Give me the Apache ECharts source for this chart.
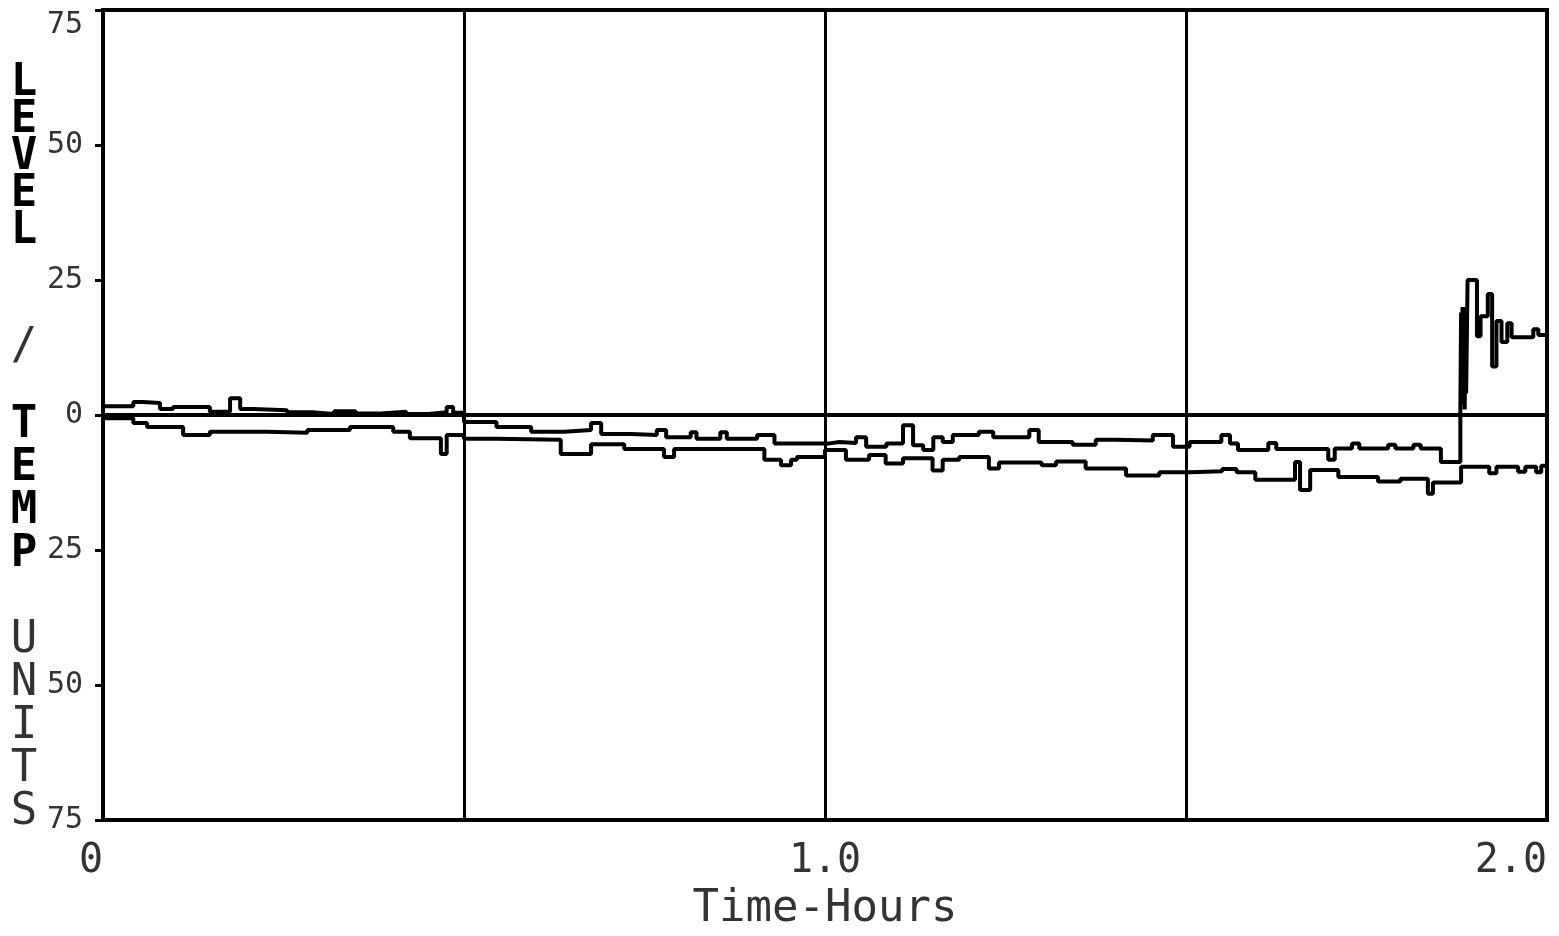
<!DOCTYPE html>
<html>
<head>
<meta charset="utf-8">
<title>Level / Temp Units vs Time</title>
<style>
  html, body { margin: 0; padding: 0; background: #fff; }
  #chart { width: 1559px; height: 936px; }
</style>
<script src="https://cdn.jsdelivr.net/npm/echarts@6/dist/echarts.min.js"></script>
</head>
<body>
<div id="chart"></div>
<script>
// ======================================
// 数据：时间（小时）/ 读数，阶梯记录
// ======================================

const X_TICKS = ["0", "", "1.0", "", "2.0"];
const Y_TICKS = [75, 50, 25, 0, 25, 50, 75];
const Y_TITLE = ["LEVEL", "/", "TEMP", "UNITS"];

// 上方曲线（末段跳升）：[开始时刻, 数值]
const TRACE_A = [
    [0, 1.6], [0.042, 2.4], [0.055, 2.2], [0.079, 1.1], [0.097, 1.5], [0.148, 0.6],
    [0.176, 3.1], [0.19, 1.1], [0.208, 0.9], [0.255, 0.5], [0.29, 0.2], [0.32, 0.7],
    [0.35, 0.3], [0.385, 0.6], [0.42, 0.2], [0.45, 0.5], [0.476, 1.5], [0.485, 0.4],
    [0.5, -1.3], [0.545, -2.2], [0.593, -3.1], [0.639, -2.8], [0.676, -1.5], [0.69, -3.5],
    [0.731, -3.7], [0.767, -2.8], [0.78, -4.1], [0.814, -3.2], [0.822, -4.4], [0.855, -3.2],
    [0.864, -4.4], [0.906, -3.7], [0.93, -5.3], [1.004, -5.0], [1.02, -5.2], [1.043, -4.1],
    [1.057, -5.9], [1.085, -5.3], [1.108, -1.9], [1.122, -5.6], [1.136, -6.5], [1.15, -4.1],
    [1.163, -5.0], [1.177, -3.7], [1.213, -3.1], [1.233, -4.1], [1.283, -2.8], [1.296, -5.0],
    [1.343, -5.5], [1.375, -4.6], [1.403, -4.7], [1.454, -3.7], [1.482, -5.9], [1.505, -5.0],
    [1.549, -3.7], [1.561, -5.3], [1.572, -6.5], [1.614, -5.2], [1.625, -6.3], [1.697, -8.3],
    [1.706, -6.2], [1.73, -5.3], [1.74, -6.2], [1.78, -5.5], [1.79, -6.2], [1.815, -5.5],
    [1.825, -6.2], [1.853, -8.7], [1.880, 1], [1.881, 19], [1.882, 2], [1.883, 20],
    [1.884, 3], [1.885, 18], [1.886, 1], [1.887, 20], [1.888, 4], [1.890, 25],
    [1.903, 14.6], [1.908, 18.3], [1.918, 22.4], [1.924, 9], [1.930, 17.4], [1.937, 13.5],
    [1.945, 17], [1.951, 14.4], [1.981, 15.9], [1.988, 14.8], [2.0, 14.8]
];

// 下方曲线
const TRACE_B = [
    [0, -0.6], [0.042, -1.5], [0.061, -2.2], [0.111, -3.7], [0.148, -3.1], [0.227, -3.3],
    [0.283, -2.8], [0.342, -2.2], [0.402, -3.1], [0.425, -4.3], [0.468, -7.2], [0.476, -3.7],
    [0.5, -4.4], [0.545, -4.6], [0.634, -7.2], [0.676, -5.4], [0.722, -6.3], [0.777, -7.8],
    [0.791, -6.3], [0.916, -8.3], [0.939, -9.3], [0.953, -8.3], [0.961, -7.8], [1.0, -6.5],
    [1.029, -8.3], [1.061, -7.4], [1.084, -9.0], [1.108, -8.0], [1.149, -10.3], [1.163, -8.3],
    [1.186, -7.8], [1.227, -9.9], [1.241, -8.8], [1.30, -9.3], [1.32, -8.6], [1.361, -9.9],
    [1.417, -11.2], [1.463, -10.6], [1.505, -10.4], [1.55, -10.0], [1.57, -10.6], [1.596, -12.0],
    [1.651, -8.7], [1.658, -13.9], [1.672, -10.2], [1.711, -11.5], [1.766, -12.3], [1.797, -11.8],
    [1.835, -14.6], [1.842, -12.5], [1.881, -9.6], [1.92, -10.8], [1.93, -9.6], [1.96, -10.5],
    [1.97, -9.6], [1.985, -10.6], [1.992, -9.4], [2.0, -9.4]
];

(function () {

    const INK = "#000";
    const TXT = "#333";
    const MONO = "DejaVu Sans Mono, Liberation Mono, monospace";

    // 纵向逐字标题：每个字一行
    function stackedText(word, cx, cy, step, bold) {
        return {
            type: "text",
            x: cx,
            y: cy,
            silent: true,
            style: {
                text: word.split("").join("\n"),
                fontFamily: MONO,
                fontSize: 44,
                fontWeight: bold ? "bold" : "normal",
                lineHeight: step,
                align: "center",
                verticalAlign: "middle",
                fill: bold ? INK : TXT
            }
        };
    }

    function traceSeries(data) {
        return {
            type: "line",
            step: "end",
            data: data,
            showSymbol: false,
            symbol: "none",
            silent: true,
            animation: false,
            lineStyle: { color: INK, width: 4 },
            z: 3
        };
    }

    function buildOption() {
        return {
            backgroundColor: "#fff",
            animation: false,
            grid: {
                left: 103, right: 12, top: 10, bottom: 116,
                show: true,
                borderColor: INK,
                borderWidth: 4,
                containLabel: false,
                outerBoundsMode: "none"
            },
            xAxis: {
                type: "value",
                min: 0, max: 2, interval: 0.5,
                name: "Time-Hours",
                nameLocation: "middle",
                nameGap: 68,
                nameTextStyle: { fontFamily: MONO, fontSize: 44, color: TXT },
                axisLine: { show: true, onZero: false, lineStyle: { color: INK, width: 4 } },
                axisTick: { show: false },
                axisLabel: {
                    margin: 22,
                    fontFamily: MONO,
                    fontSize: 40,
                    color: TXT,
                    alignMinLabel: "right",
                    alignMaxLabel: "right",
                    formatter: function (v) { return X_TICKS[Math.round(v / 0.5)] || ""; }
                },
                splitLine: { show: true, lineStyle: { color: INK, width: 3 } }
            },
            yAxis: {
                type: "value",
                min: -75, max: 75, interval: 25,
                axisLine: { show: true, onZero: false, lineStyle: { color: INK, width: 4 } },
                axisTick: { show: true, length: 8, lineStyle: { color: INK, width: 3 } },
                axisLabel: {
                    margin: 20,
                    fontFamily: MONO,
                    fontSize: 30,
                    color: TXT,
                    verticalAlignMaxLabel: "top",
                    formatter: function (v) { return String(Y_TICKS[Math.round((75 - v) / 25)]); }
                },
                // 只画零线
                splitLine: {
                    show: true,
                    lineStyle: {
                        color: ["rgba(0,0,0,0)", "rgba(0,0,0,0)", "rgba(0,0,0,0)", INK,
                                "rgba(0,0,0,0)", "rgba(0,0,0,0)", "rgba(0,0,0,0)"],
                        width: 4
                    }
                }
            },
            graphic: [
                stackedText(Y_TITLE[0], 24, 158, 37, true),
                stackedText(Y_TITLE[1], 24, 348, 40, false),
                stackedText(Y_TITLE[2], 24, 490, 43, true),
                stackedText(Y_TITLE[3], 24, 727, 43, false)
            ],
            series: [traceSeries(TRACE_A), traceSeries(TRACE_B)]
        };
    }

    const chart = echarts.init(document.getElementById("chart"), null, { renderer: "canvas" });
    chart.setOption(buildOption());

})();
</script>
</body>
</html>
